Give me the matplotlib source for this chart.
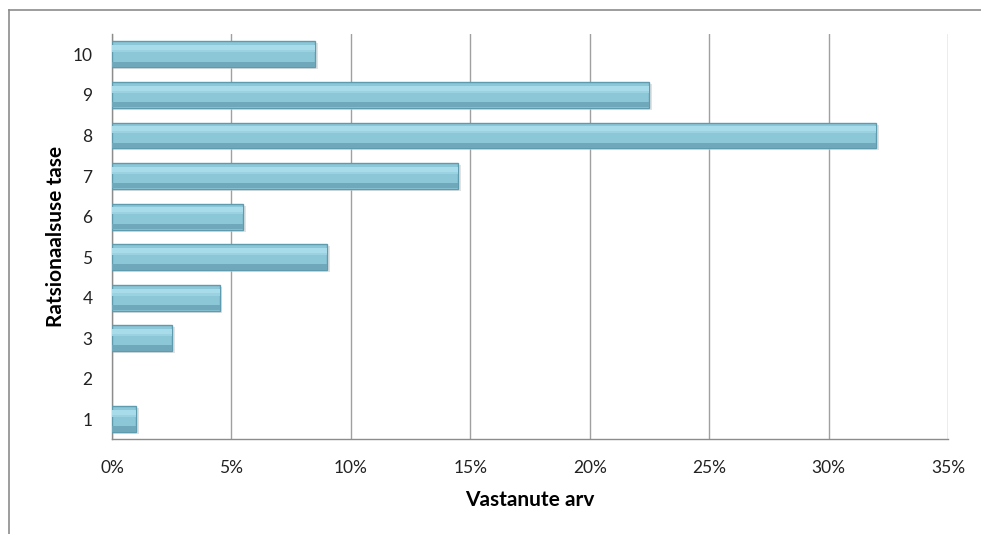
import matplotlib.pyplot as plt
from matplotlib.lines import Line2D
from matplotlib.ticker import FuncFormatter

# Ratsionaalsuse tase (1..10) ja vastanute osakaal (%)
levels = [1, 2, 3, 4, 5, 6, 7, 8, 9, 10]
shares = [1.0, 0.0, 2.5, 4.5, 9.0, 5.5, 14.5, 32.0, 22.5, 8.5]

plt.rcParams["font.family"] = ["Lato", "DejaVu Sans"]

fig = plt.figure(figsize=(9.81, 5.34), dpi=100)
ax = fig.add_axes([0.1142, 0.177, 0.8522, 0.759])

h = 0.64
widths = [1.0 if s > 0 else 0 for s in shares]
# vari
ax.barh([l - 0.05 for l in levels], [s + 0.12 if s > 0 else 0 for s in shares],
        height=h, color="#d0d0d0", alpha=0.6, zorder=2)
# pohi
ax.barh(levels, shares, height=h, color="#8cc7d8", edgecolor="#5e9bae",
        linewidth=widths, zorder=3)
# ylemine helk
ax.barh([l + h * 0.25 for l in levels], shares, height=h * 0.2,
        color="#a9dceb", linewidth=0, zorder=4)
ax.barh([l + h * 0.12 for l in levels], shares, height=h * 0.08,
        color="#9ad2e2", linewidth=0, zorder=4)
# alumine tumedam serv
ax.barh([l - h * 0.38 for l in levels], shares, height=h * 0.2,
        color="#6fa8ba", linewidth=0, zorder=4)

ax.set_xlim(0, 35)
ax.set_ylim(0.5, 10.5)
ax.set_xticks(range(0, 36, 5))
ax.xaxis.set_major_formatter(FuncFormatter(lambda v, p: f"{v:.0f}%"))
ax.set_yticks(levels)
ax.grid(axis="x", color="#a0a0a0", linewidth=1.0, zorder=0)
ax.set_axisbelow(True)

for side in ["top", "right"]:
    ax.spines[side].set_visible(False)
for side in ["left", "bottom"]:
    ax.spines[side].set_color("#8c8c8c")
    ax.spines[side].set_linewidth(1.0)

ax.tick_params(axis="both", length=0, labelsize=12.5, colors="#222222")
ax.tick_params(axis="x", pad=15)
ax.tick_params(axis="y", pad=14)

ax.set_xlabel("Vastanute arv", fontsize=15, fontweight="bold", labelpad=10)
ax.set_ylabel("Ratsionaalsuse tase", fontsize=15, fontweight="bold", labelpad=5)

# diagrammi raam (vasak ja ulemine serv)
fig.add_artist(Line2D([0.0092, 0.0092], [0.0, 0.9813], color="#8c8c8c", linewidth=1.2))
fig.add_artist(Line2D([0.0092, 1.0], [0.9813, 0.9813], color="#8c8c8c", linewidth=1.2))

fig.savefig("out.png", dpi=100)
